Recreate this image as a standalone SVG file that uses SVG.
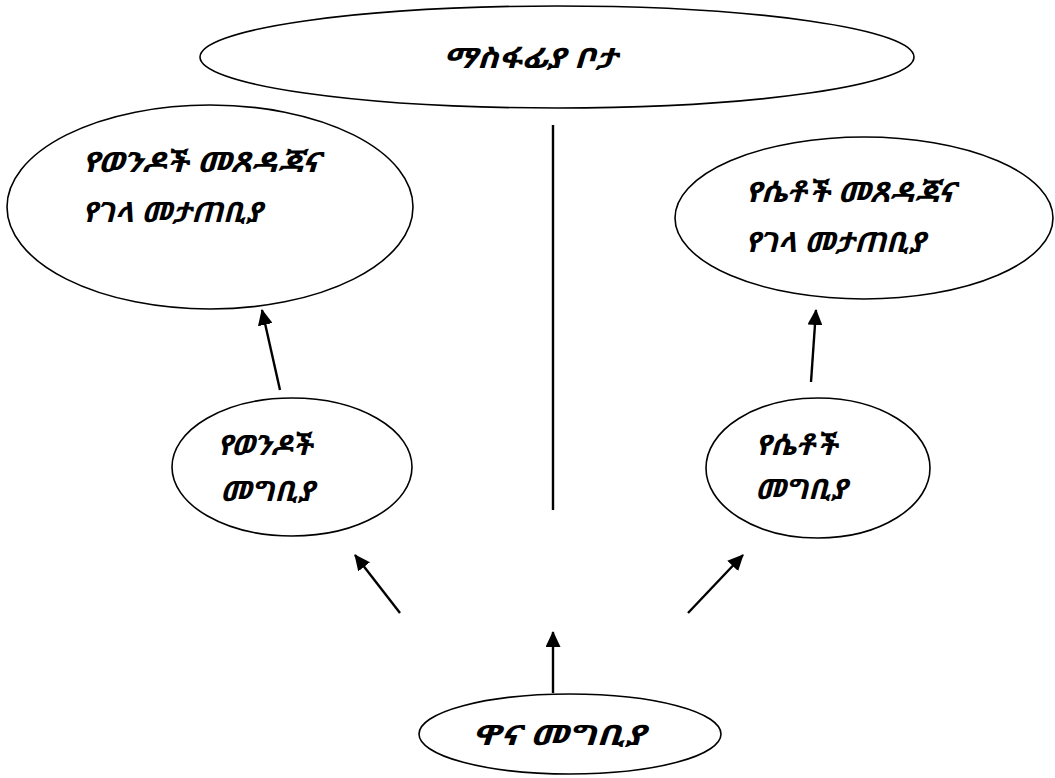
<svg xmlns="http://www.w3.org/2000/svg" width="1055" height="778" viewBox="0 0 1055 778">
<defs>
<style>
.node ellipse{fill:#fff;stroke:#000;stroke-width:1.6}
.node text{font-family:"Noto Sans Ethiopic","Noto Sans","DejaVu Sans",sans-serif;font-size:28px;font-weight:bold;font-style:italic;fill:#000}
.conn line{stroke:#000;stroke-width:2.4}
</style>
<marker id="ah" viewBox="0 0 16 15" refX="15" refY="7.5" markerWidth="16" markerHeight="15" markerUnits="userSpaceOnUse" orient="auto">
<path d="M0,0 L16,7.5 L0,15 z" fill="#000"/>
</marker>
</defs>
<rect width="1055" height="778" fill="#fff"/>
<g id="node-expansion" class="node">
<ellipse cx="557" cy="57" rx="357" ry="51"/>
<text x="443" y="68" textLength="174" lengthAdjust="spacingAndGlyphs">ማስፋፊያ ቦታ</text>
</g>
<g id="node-men-toilet" class="node">
<ellipse cx="210" cy="207" rx="203" ry="102"/>
<text x="82" y="172" textLength="238" lengthAdjust="spacingAndGlyphs">የወንዶች መጸዳጃና</text>
<text x="82" y="222" textLength="180" lengthAdjust="spacingAndGlyphs">የገላ መታጠቢያ</text>
</g>
<g id="node-women-toilet" class="node">
<ellipse cx="864" cy="218" rx="189" ry="81"/>
<text x="745" y="202" textLength="210" lengthAdjust="spacingAndGlyphs">የሴቶች መጸዳጃና</text>
<text x="745" y="252" textLength="180" lengthAdjust="spacingAndGlyphs">የገላ መታጠቢያ</text>
</g>
<g id="node-men-entrance" class="node">
<ellipse cx="292" cy="467" rx="120" ry="69"/>
<text x="217" y="455" textLength="95" lengthAdjust="spacingAndGlyphs">የወንዶች</text>
<text x="220" y="501" textLength="94" lengthAdjust="spacingAndGlyphs">መግቢያ</text>
</g>
<g id="node-women-entrance" class="node">
<ellipse cx="818" cy="468" rx="112" ry="70"/>
<text x="755" y="455" textLength="82" lengthAdjust="spacingAndGlyphs">የሴቶች</text>
<text x="755" y="499" textLength="92" lengthAdjust="spacingAndGlyphs">መግቢያ</text>
</g>
<g id="node-main-entrance" class="node">
<ellipse cx="570" cy="734" rx="151" ry="40"/>
<text x="472" y="745" textLength="173" lengthAdjust="spacingAndGlyphs">ዋና መግቢያ</text>
</g>
<g id="connectors" class="conn">
<line x1="553" y1="125" x2="553" y2="510"/>
<line x1="280" y1="390" x2="262" y2="310" marker-end="url(#ah)"/>
<line x1="811" y1="382" x2="816" y2="310" marker-end="url(#ah)"/>
<line x1="400" y1="613" x2="355" y2="555" marker-end="url(#ah)"/>
<line x1="688" y1="613" x2="743" y2="555" marker-end="url(#ah)"/>
<line x1="553" y1="693" x2="553" y2="632" marker-end="url(#ah)"/>
</g>
</svg>
